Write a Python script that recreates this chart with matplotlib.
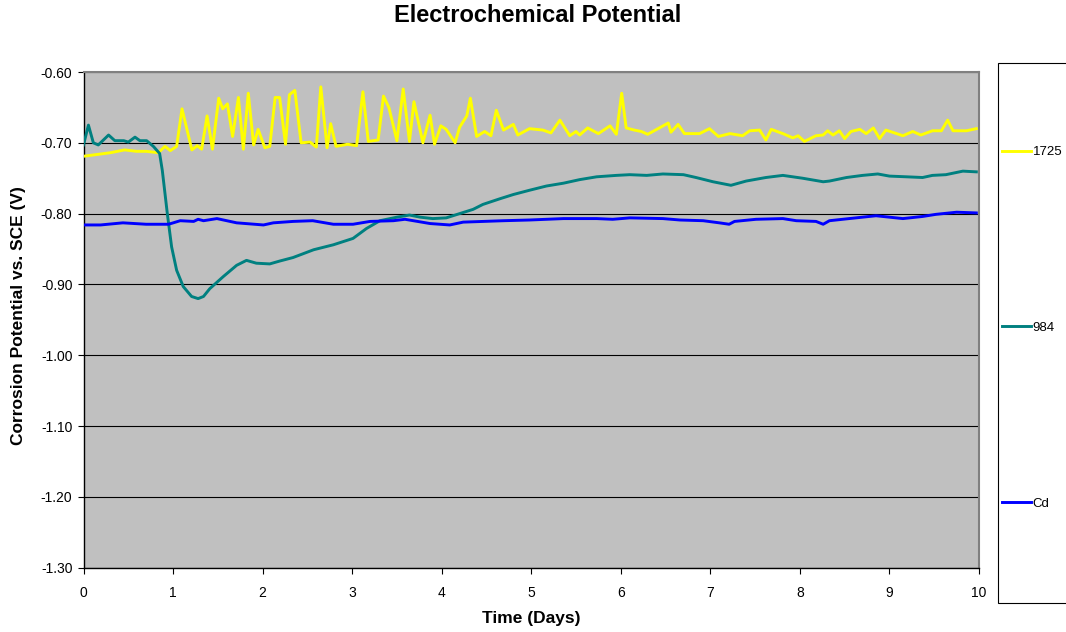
import matplotlib
matplotlib.use('Agg')
import matplotlib.pyplot as plt
from matplotlib.patches import Rectangle
from matplotlib.ticker import FormatStrFormatter

plt.rcParams['font.family'] = ['Liberation Sans', 'DejaVu Sans']

# 1725 alloy (yellow), days vs potential (V)
days_1725 = [0.0, 0.30, 0.46, 0.59, 0.70, 0.835, 0.91, 0.97, 1.04, 1.10, 1.21, 1.27, 1.32, 1.38,
             1.44, 1.51, 1.555, 1.607, 1.665, 1.73, 1.785, 1.84, 1.90, 1.95, 2.025, 2.08, 2.14,
             2.19, 2.256, 2.30, 2.36, 2.43, 2.53, 2.60, 2.65, 2.72, 2.76, 2.82, 2.95, 3.05, 3.12,
             3.18, 3.29, 3.35, 3.41, 3.50, 3.57, 3.64, 3.69, 3.79, 3.87, 3.92, 3.99, 4.05, 4.15,
             4.20, 4.28, 4.32, 4.39, 4.48, 4.55, 4.61, 4.69, 4.80, 4.85, 4.98, 5.13, 5.22, 5.32,
             5.43, 5.50, 5.54, 5.63, 5.75, 5.88, 5.95, 6.01, 6.06, 6.15, 6.23, 6.30, 6.43, 6.53,
             6.56, 6.64, 6.71, 6.88, 6.99, 7.09, 7.22, 7.36, 7.44, 7.55, 7.62, 7.68, 7.81, 7.92,
             7.98, 8.05, 8.18, 8.26, 8.31, 8.37, 8.44, 8.50, 8.57, 8.67, 8.74, 8.82, 8.89, 8.96,
             9.08, 9.15, 9.26, 9.35, 9.48, 9.58, 9.65, 9.71, 9.86, 9.97]
pot_1725 = [-0.719, -0.714, -0.710, -0.712, -0.712, -0.714, -0.705, -0.711, -0.705, -0.652,
            -0.710, -0.704, -0.709, -0.662, -0.709, -0.637, -0.652, -0.645, -0.691, -0.636,
            -0.709, -0.630, -0.703, -0.681, -0.707, -0.705, -0.636, -0.636, -0.702, -0.632,
            -0.626, -0.700, -0.699, -0.706, -0.621, -0.707, -0.673, -0.705, -0.702, -0.704,
            -0.628, -0.698, -0.696, -0.634, -0.650, -0.697, -0.624, -0.698, -0.642, -0.700,
            -0.661, -0.702, -0.676, -0.681, -0.700, -0.678, -0.662, -0.637, -0.691, -0.684,
            -0.690, -0.654, -0.682, -0.674, -0.689, -0.680, -0.682, -0.686, -0.668, -0.690,
            -0.684, -0.689, -0.679, -0.687, -0.676, -0.688, -0.630, -0.679, -0.682, -0.684,
            -0.688, -0.679, -0.672, -0.685, -0.674, -0.687, -0.687, -0.680, -0.691, -0.687,
            -0.690, -0.683, -0.682, -0.696, -0.681, -0.687, -0.693, -0.690, -0.698, -0.690,
            -0.689, -0.683, -0.689, -0.683, -0.694, -0.684, -0.681, -0.687, -0.679, -0.694,
            -0.682, -0.687, -0.690, -0.684, -0.689, -0.683, -0.683, -0.668, -0.683, -0.683,
            -0.680]

# 984 alloy (teal)
days_984 = [0.0, 0.055, 0.11, 0.165, 0.28, 0.35, 0.45, 0.50, 0.575, 0.63, 0.705, 0.78, 0.85,
            0.88, 0.936, 0.984, 1.04, 1.114, 1.207, 1.28, 1.34, 1.41, 1.56, 1.71, 1.82, 1.93,
            2.08, 2.19, 2.34, 2.57, 2.79, 3.01, 3.16, 3.31, 3.50, 3.64, 3.76, 3.90, 4.05, 4.20,
            4.35, 4.46, 4.65, 4.80, 4.98, 5.17, 5.36, 5.54, 5.73, 5.95, 6.10, 6.29, 6.47, 6.70,
            6.84, 7.03, 7.23, 7.40, 7.62, 7.81, 8.03, 8.26, 8.33, 8.52, 8.70, 8.87, 9.00, 9.19,
            9.37, 9.48, 9.63, 9.82, 9.97]
pot_984 = [-0.703, -0.675, -0.700, -0.703, -0.689, -0.697, -0.697, -0.699, -0.692, -0.697,
           -0.697, -0.705, -0.715, -0.739, -0.800, -0.847, -0.880, -0.903, -0.917, -0.920,
           -0.917, -0.906, -0.889, -0.873, -0.866, -0.870, -0.871, -0.867, -0.862, -0.851,
           -0.844, -0.835, -0.821, -0.810, -0.805, -0.802, -0.805, -0.807, -0.806, -0.800,
           -0.794, -0.787, -0.779, -0.773, -0.767, -0.761, -0.757, -0.752, -0.748, -0.746,
           -0.745, -0.746, -0.744, -0.745, -0.749, -0.755, -0.760, -0.754, -0.749, -0.746,
           -0.750, -0.755, -0.754, -0.749, -0.746, -0.744, -0.747, -0.748, -0.749, -0.746,
           -0.745, -0.740, -0.741]

# Cd plated (blue)
days_cd = [0.0, 0.19, 0.44, 0.70, 0.95, 1.08, 1.23, 1.28, 1.34, 1.49, 1.71, 2.01, 2.12, 2.34,
           2.56, 2.79, 3.01, 3.20, 3.46, 3.59, 3.87, 4.09, 4.24, 4.69, 4.98, 5.36, 5.73, 5.91,
           6.10, 6.47, 6.66, 6.92, 7.10, 7.21, 7.27, 7.51, 7.81, 7.96, 8.18, 8.26, 8.33, 8.55,
           8.85, 9.00, 9.15, 9.37, 9.52, 9.75, 9.97]
pot_cd = [-0.816, -0.816, -0.813, -0.815, -0.815, -0.810, -0.811, -0.808, -0.810, -0.807,
          -0.813, -0.816, -0.813, -0.811, -0.810, -0.815, -0.815, -0.811, -0.810, -0.808,
          -0.814, -0.816, -0.812, -0.810, -0.809, -0.807, -0.807, -0.808, -0.806, -0.807,
          -0.809, -0.810, -0.813, -0.815, -0.811, -0.808, -0.807, -0.810, -0.811, -0.815,
          -0.810, -0.807, -0.803, -0.805, -0.807, -0.804, -0.801, -0.798, -0.799]

W, H = 1066, 632
fig = plt.figure(figsize=(W / 100, H / 100), dpi=100)
ax = fig.add_axes([83.5 / W, 1 - 567.7 / H, (979 - 83.5) / W, (567.7 - 72) / H])
ax.set_facecolor('#C0C0C0')

ax.plot(days_1725, pot_1725, color='#FFFF00', lw=2.1, label='1725', zorder=3)
ax.plot(days_984, pot_984, color='#008080', lw=2.1, label='984', zorder=3)
ax.plot(days_cd, pot_cd, color='#0000FF', lw=2.1, label='Cd', zorder=3)

ax.set_xlim(0, 10)
ax.set_ylim(-1.30, -0.60)
ax.set_xticks(range(0, 11))
ax.set_yticks([-1.3, -1.2, -1.1, -1.0, -0.9, -0.8, -0.7, -0.6])
ax.yaxis.set_major_formatter(FormatStrFormatter('%.2f'))
ax.grid(axis='y', color='black', lw=0.8, zorder=1)
ax.set_axisbelow(True)
ax.tick_params(direction='out', length=4, width=0.8, labelsize=10)
ax.tick_params(axis='x', pad=9.5)
ax.tick_params(axis='y', pad=4)
for s in ['top', 'right']:
    ax.spines[s].set_color('#808080')
    ax.spines[s].set_linewidth(1.5)
for s in ['left', 'bottom']:
    ax.spines[s].set_color('black')
    ax.spines[s].set_linewidth(1)

fig.text(531 / W, 1 - 618 / H, 'Time (Days)', ha='center', va='center',
         fontsize=12.5, fontweight='bold')
fig.text(19 / W, 1 - 316 / H, 'Corrosion Potential vs. SCE (V)', ha='center', va='center',
         rotation=90, fontsize=12.5, fontweight='bold')
fig.text(538 / W, 1 - 16 / H, 'Electrochemical Potential', ha='center', va='center',
         fontsize=17, fontweight='bold')

# legend box running off the right edge
fig.patches.append(Rectangle((997.5 / W, 1 - 603 / H), 100 / W, 540 / H, transform=fig.transFigure,
                             facecolor='white', edgecolor='black', lw=0.8))
leg = fig.legend(loc='upper left', bbox_to_anchor=(1002 / W, 1 - 146 / H), frameon=False,
                 fontsize=9.5, handlelength=2.23, handletextpad=0.1, labelspacing=12.4,
                 borderaxespad=0, borderpad=0)

fig.savefig('out.png', dpi=100)
